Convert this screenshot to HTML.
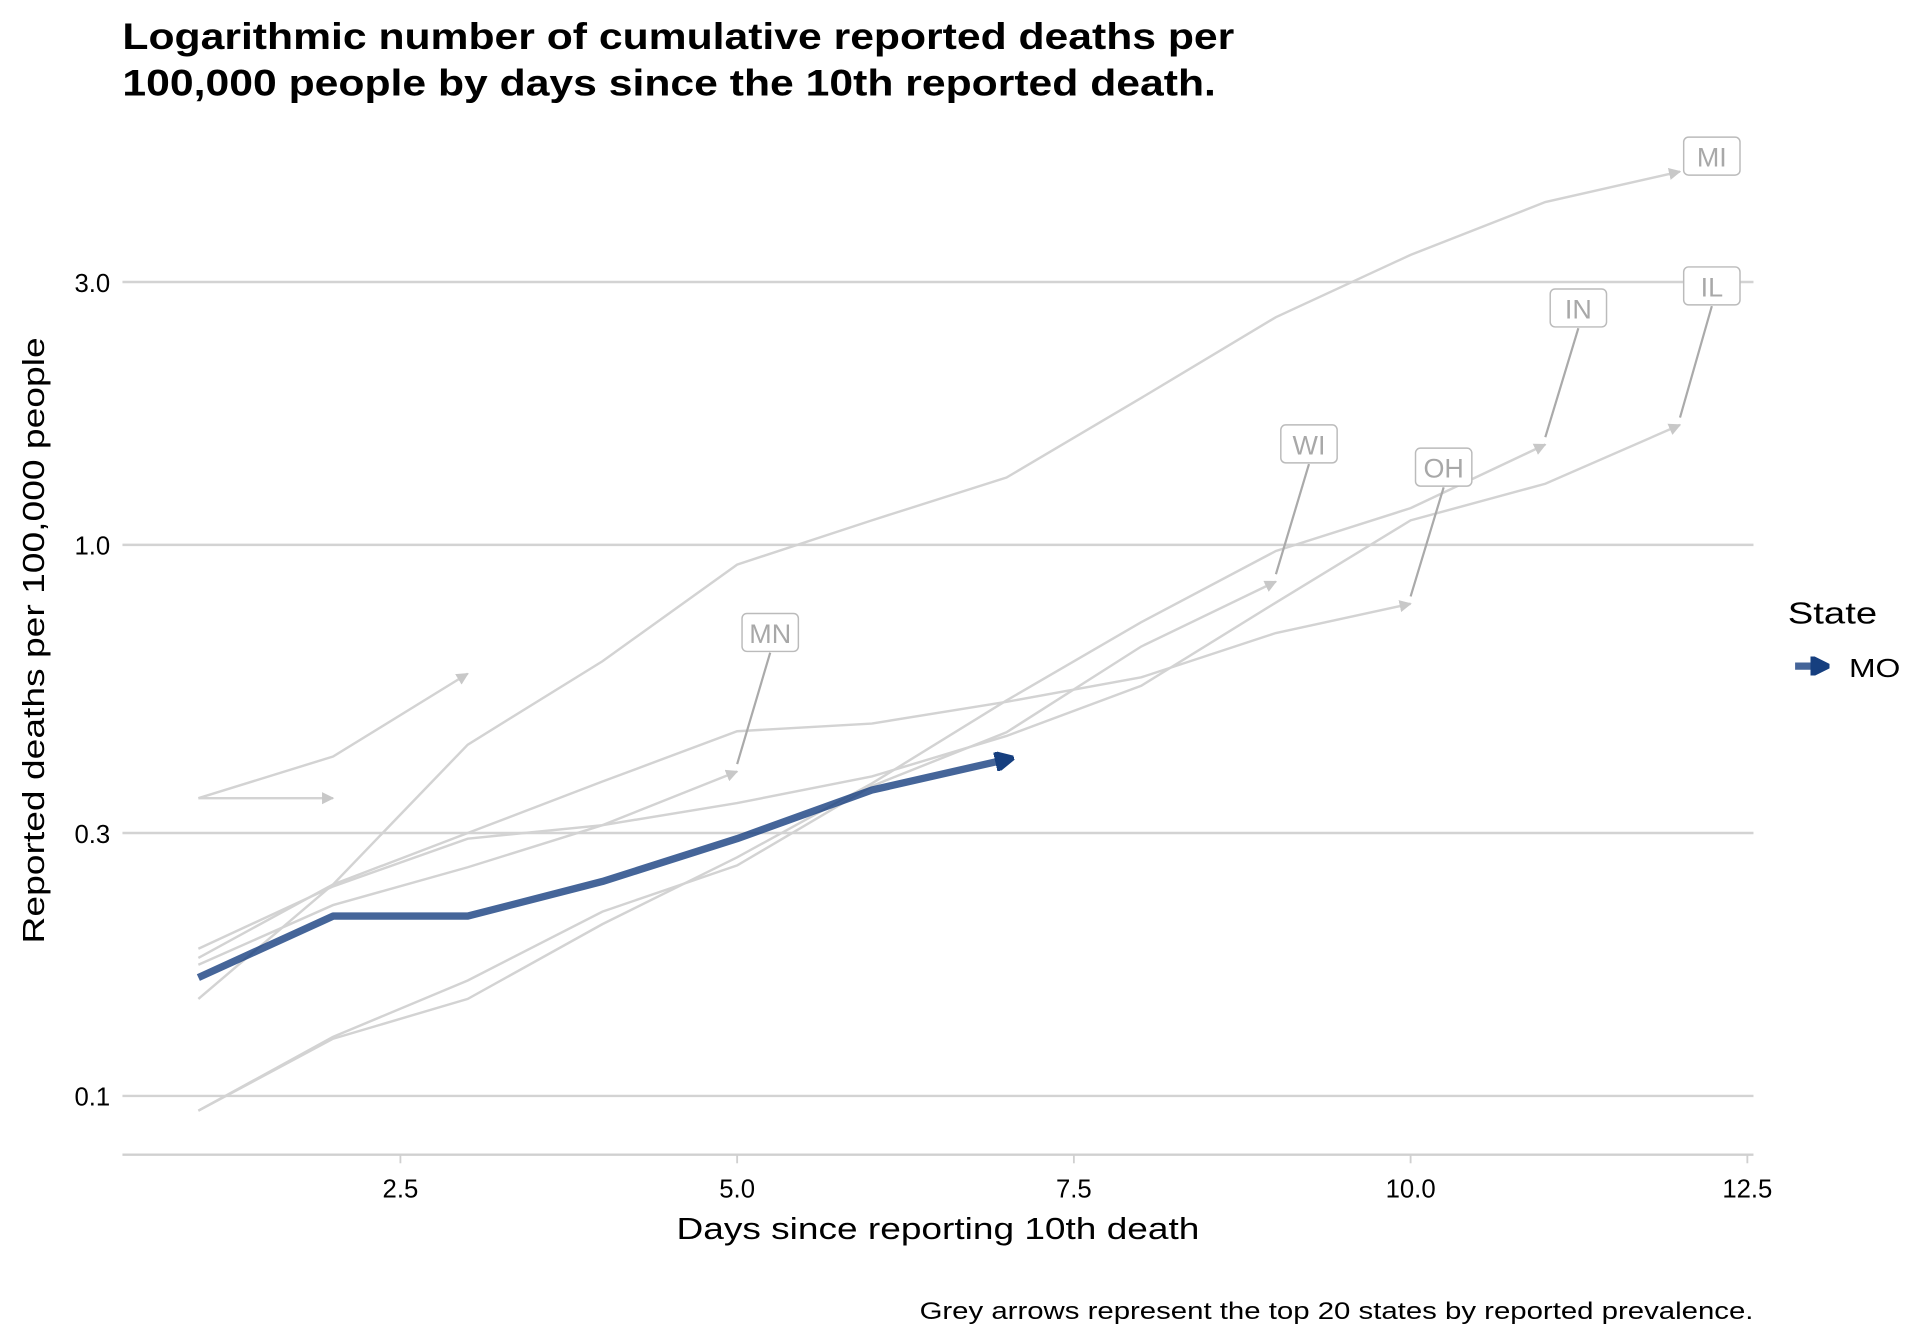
<!DOCTYPE html>
<html><head><meta charset="utf-8"><style>
body{margin:0;background:#fff}
svg{display:block;font-family:"Liberation Sans",Arial,sans-serif}
</style></head><body>
<svg id="chart" width="1920" height="1344" viewBox="0 0 1568 1097.6" xmlns="http://www.w3.org/2000/svg">
<defs>
<marker id="ag" viewBox="0 0 10 10" refX="9" refY="5" markerWidth="5" markerHeight="5" orient="auto"><path d="M0,0L10,5L0,10z" fill="#c8c8c8"/></marker>
<marker id="ab" viewBox="0 0 10 10" refX="6" refY="5" markerWidth="2.6" markerHeight="2.6" orient="auto"><path d="M0,0L10,5L0,10z" fill="#163f7f" stroke="#163f7f" stroke-width="2" stroke-linejoin="round"/></marker>
</defs>
<text x="100" y="40" font-size="30" font-weight="bold" textLength="908" lengthAdjust="spacingAndGlyphs">Logarithmic number of cumulative reported deaths per</text>
<text x="100" y="78" font-size="30" font-weight="bold" textLength="893" lengthAdjust="spacingAndGlyphs">100,000 people by days since the 10th reported death.</text>
<g id="grid"></g><g id="grey"></g><g id="labels"></g><g id="mo"></g>
<line x1="100" y1="943" x2="1432" y2="943" stroke="#d0d0d0" stroke-width="2"/>
<g id="xticks"></g>
<text x="766" y="1012" font-size="25" text-anchor="middle" textLength="427" lengthAdjust="spacingAndGlyphs">Days since reporting 10th death</text>
<text transform="translate(36,523) rotate(-90)" font-size="25" text-anchor="middle" textLength="495" lengthAdjust="spacingAndGlyphs">Reported deaths per 100,000 people</text>
<text x="1460" y="509" font-size="25" textLength="73" lengthAdjust="spacingAndGlyphs">State</text>
<line x1="1466" y1="544" x2="1488" y2="544" stroke="#163f7f" stroke-opacity="0.8" stroke-width="6" marker-end="url(#ab)"/>
<text x="1510" y="553" font-size="21" textLength="42" lengthAdjust="spacingAndGlyphs">MO</text>
<text x="751" y="1077" font-size="20" textLength="681" lengthAdjust="spacingAndGlyphs">Grey arrows represent the top 20 states by reported prevalence.</text>
</svg>
<script>
const yTicks=[0.1,0.3,1.0,3.0];
const yTickLabels=["0.1","0.3","1.0","3.0"];
const xTicks=[2.5,5.0,7.5,10.0,12.5];
const xTickLabels=["2.5","5.0","7.5","10.0","12.5"];
const moValues=[0.164,0.212,0.212,0.245,0.293,0.359,0.408];
const miValues=[0.150,0.242,0.434,0.615,0.921,1.108,1.325,1.848,2.59,3.36,4.19,4.76];
const inValues=[0.094,0.127,0.150,0.205,0.271,0.369,0.522,0.724,0.975,1.166,1.521];
const wiValues=[0.094,0.128,0.162,0.216,0.262,0.365,0.457,0.654,0.858];
const ohValues=[0.178,0.242,0.300,0.372,0.459,0.474,0.519,0.575,0.692,0.782];
const ilValues=[0.173,0.222,0.260,0.310,0.340,0.380,0.450,0.555,0.786,1.108,1.291,1.651];
const mnValues=[0.185,0.240,0.293,0.310,0.388];
const flatValues=[0.347,0.347];
const shortValues=[0.347,0.413,0.584];
const NS="http://www.w3.org/2000/svg";
const sx=d=>162+(d-1)*110;
const sy=v=>445-450*Math.log10(v);
function mk(tag,attrs,parent,txt){const e=document.createElementNS(NS,tag);for(const k in attrs)e.setAttribute(k,attrs[k]);if(txt!==undefined)e.textContent=txt;document.getElementById(parent).appendChild(e);return e;}
yTicks.forEach((t,i)=>{
 const l=mk('line',{x1:100,x2:1432,y1:sy(t),y2:sy(t),stroke:'#d3d3d3','stroke-width':2},'grid');
 
 
 const tx=mk('text',{x:90,y:sy(t)+8,'font-size':21,'text-anchor':'end'},'grid',yTickLabels[i]);
 
 
});
xTicks.forEach((t,i)=>{
 const l=mk('line',{x1:sx(t),x2:sx(t),y1:943,y2:950,stroke:'#d0d0d0','stroke-width':1.5},'xticks');
 
 
 const tx=mk('text',{x:sx(t),y:978,'font-size':21,'text-anchor':'middle'},'xticks',xTickLabels[i]);
 
 
});
const pts=a=>a.map((v,i)=>sx(i+1)+','+sy(v)).join(' ');
const greys=[['mi',miValues],['in',inValues],['wi',wiValues],['oh',ohValues],['il',ilValues],['mn',mnValues],['flat',flatValues],['short',shortValues]];
greys.forEach(([n,a])=>{
 const p=mk('polyline',{points:pts(a),fill:'none',stroke:'#d3d3d3','stroke-width':2,'marker-end':'url(#ag)'},'grey');
 
 
});
const labs=[['MN',mnValues,629,517],['WI',wiValues,1069,363],['OH',ohValues,1179,382],['IN',inValues,1289,252],['MI',miValues,1398,128],['IL',ilValues,1398,234]];
labs.forEach(([t,a,bx,by])=>{
 const ex=sx(a.length),ey=sy(a[a.length-1]);
 if(t!=='MI'){const l=mk('line',{x1:bx,y1:by+16,x2:ex,y2:ey-6,stroke:'#aaaaaa','stroke-width':1.8},'labels');
 
 }
 const w=t.length*15+16;
 const r=mk('rect',{x:bx-w/2,y:by-16,width:w,height:31,rx:4,fill:'#fff',stroke:'#bbbbbb','stroke-width':1.2},'labels');
 
 
 const tx=mk('text',{x:bx,y:by+8,'font-size':22,'text-anchor':'middle',fill:'#a8a8a8'},'labels',t);
 
 
});
const mo=mk('polyline',{points:pts(moValues),fill:'none',stroke:'#163f7f','stroke-opacity':0.8,'stroke-width':6,'stroke-linejoin':'round','marker-end':'url(#ab)'},'mo');


</script>
</body></html>
